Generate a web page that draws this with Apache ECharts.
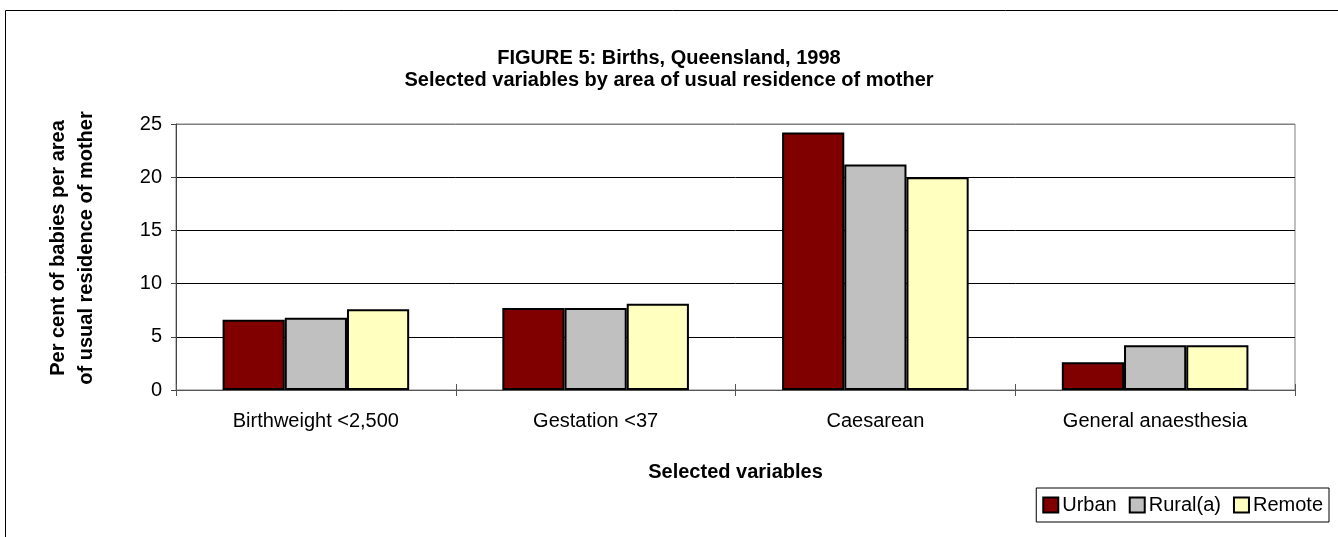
<!DOCTYPE html>
<html>
<head>
<meta charset="utf-8">
<script src="https://cdn.jsdelivr.net/npm/echarts@6/dist/echarts.min.js"></script>
<style>
html,body{margin:0;padding:0;background:#fff;}
#chart{width:1338px;height:537px;}
</style>
</head>
<body>
<div id="chart"></div>
<script>
const titleLines = ['FIGURE 5: Births, Queensland, 1998', 'Selected variables by area of usual residence of mother'];
const categories = ['Birthweight <2,500', 'Gestation <37', 'Caesarean', 'General anaesthesia'];
const seriesNames = ['Urban', 'Rural(a)', 'Remote'];
const urban = [6.6, 7.7, 24.2, 2.6];
const rural = [6.8, 7.7, 21.2, 4.2];
const remote = [7.6, 8.1, 20.0, 4.2];
const yTitleLines = ['Per cent of babies per area', 'of usual residence of mother'];
const xTitle = 'Selected variables';

const FONT = 'Liberation Sans, Arial, Helvetica, sans-serif';
const colors = ['#800000', '#C0C0C0', '#FFFFC0'];
const values = [urban, rural, remote];

const chart = echarts.init(document.getElementById('chart'), null, {renderer: 'canvas'});
chart.setOption({
  animation: false,
  backgroundColor: '#fff',
  title: {
    text: titleLines.join('\n'),
    left: 'center',
    top: 42,
    textStyle: {fontFamily: FONT, fontSize: 20, fontWeight: 'bold', color: '#000', lineHeight: 22}
  },
  graphic: [
    {type: 'rect', shape: {x: 5.5, y: 10.5, width: 1400, height: 600}, style: {fill: 'none', stroke: '#000', lineWidth: 1}, z: -1, silent: true},
    {type: 'text', x: 72, y: 248, rotation: Math.PI / 2,
     style: {text: yTitleLines.join('\n'), font: 'bold 20px ' + FONT, fill: '#000', align: 'center', verticalAlign: 'middle', lineHeight: 28}}
  ],
  legend: {
    right: 9,
    top: 488,
    padding: [7, 6],
    itemGap: 12,
    itemWidth: 15,
    itemHeight: 15,
    borderColor: '#000',
    borderWidth: 1,
    icon: 'rect',
    itemStyle: {borderColor: '#000', borderWidth: 2},
    textStyle: {fontFamily: FONT, fontSize: 20, color: '#000', padding: [0, 0, 0, -1]},
    data: seriesNames
  },
  grid: {
    left: 176, right: 43, top: 124, bottom: 147,
    show: true, borderColor: '#808080', borderWidth: 1, backgroundColor: '#fff'
  },
  xAxis: [
    {
      type: 'category',
      data: categories,
      axisLine: {show: true, lineStyle: {color: '#555', width: 1}},
      axisTick: {show: true, inside: false, length: 6, lineStyle: {color: '#555'}},
      axisLabel: {fontFamily: FONT, fontSize: 20, color: '#000', margin: 21},
      name: xTitle,
      nameLocation: 'middle',
      nameGap: 72,
      nameTextStyle: {fontFamily: FONT, fontSize: 20, fontWeight: 'bold', color: '#000'}
    },
    {
      type: 'category',
      data: categories,
      position: 'bottom',
      axisLine: {show: false},
      axisTick: {show: true, inside: true, length: 6, lineStyle: {color: '#555'}},
      axisLabel: {show: false}
    }
  ],
  yAxis: {
    type: 'value',
    min: 0, max: 25, interval: 5,
    axisLine: {show: true, lineStyle: {color: '#444', width: 1}},
    axisTick: {show: true, length: 5, lineStyle: {color: '#444'}},
    axisLabel: {fontFamily: FONT, fontSize: 20, color: '#000', margin: 14},
    splitLine: {show: true, lineStyle: {color: ['#000', '#000', '#000', '#000', '#000', '#808080'], width: 1}}
  },
  series: seriesNames.map((name, i) => ({
    name: name,
    type: 'bar',
    data: values[i],
    barGap: '0%',
    barCategoryGap: '33.3%',
    itemStyle: {color: colors[i], borderColor: '#000', borderWidth: 2},
    emphasis: {disabled: true}
  }))
});
</script>
</body>
</html>
